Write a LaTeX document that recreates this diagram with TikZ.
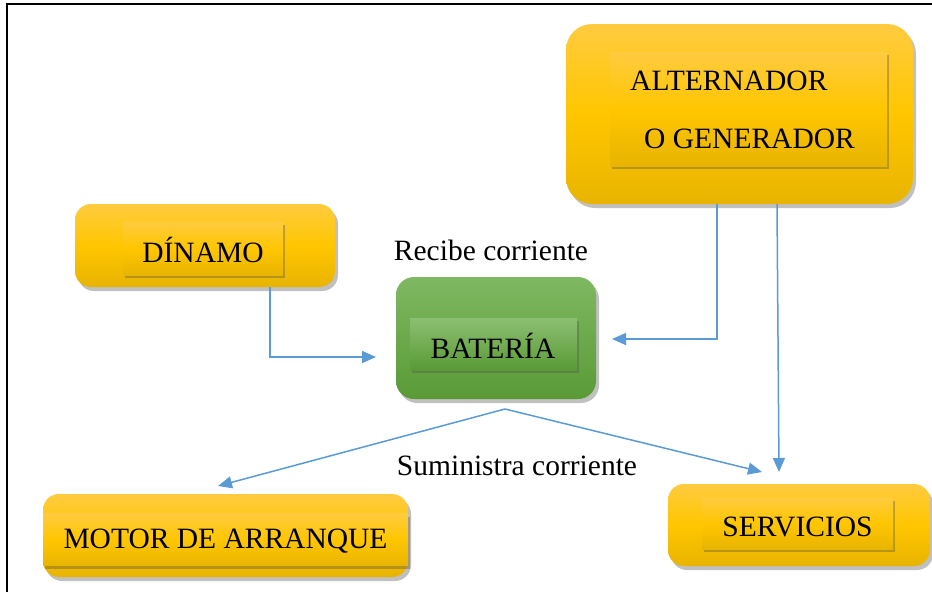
\documentclass[tikz,border=0pt]{standalone}
\usepackage{fontspec}
\setmainfont{Liberation Serif}
\usetikzlibrary{shadows,arrows.meta,calc}
\definecolor{ylT}{HTML}{FFCB3F}
\definecolor{ylM}{HTML}{FFC600}
\definecolor{ylB}{HTML}{E8B400}
\definecolor{grT}{HTML}{7FB862}
\definecolor{grB}{HTML}{5A9A36}
\definecolor{lnk}{HTML}{5B9BD5}
\begin{document}
\begin{tikzpicture}[x=1pt,y=-1pt,
  outerY/.style={rounded corners=16pt, inner sep=0pt, top color=ylT, bottom color=ylB, middle color=ylM,
     drop shadow={shadow xshift=3pt, shadow yshift=-4pt, opacity=0.35, fill=black!70}},
  innerY/.style={inner sep=0pt, top color=ylT, bottom color=ylB, middle color=ylM,
     drop shadow={shadow xshift=2pt, shadow yshift=-3pt, opacity=0.35, fill=black!70}},
  outerG/.style={rounded corners=18pt, inner sep=0pt, top color=grT, bottom color=grB,
     drop shadow={shadow xshift=3pt, shadow yshift=-4pt, opacity=0.35, fill=black!70}},
  innerG/.style={inner sep=0pt, top color=grT!90!white, bottom color=grB,
     drop shadow={shadow xshift=2pt, shadow yshift=-3pt, opacity=0.35, fill=black!70}},
  lbl/.style={font=\fontsize{29.5}{34}\selectfont, inner sep=0pt, text=black},
  link/.style={draw=lnk, line width=1.5pt, -{Triangle[length=14pt,width=12pt]}}
]
\useasboundingbox (0,0) rectangle (932,592);
\fill[white] (0,0) rectangle (932,592);
% frame
\draw[line width=2pt] (7,592) -- (7,4) -- (932,4);

% ALTERNADOR
\node[outerY, rounded corners=26pt, minimum width=347pt, minimum height=180pt] (alt) at (739.5,114) {};
\node[innerY, minimum width=277pt, minimum height=114pt] (altin) at (748.5,109) {};
\node[lbl, anchor=base west] (altA) at (630,90) {ALTERNADOR};
\node[lbl, anchor=base west] (altB) at (644,148) {O GENERADOR};

% DINAMO
\node[outerY, minimum width=260pt, minimum height=83pt] (dyn) at (205,245.5) {};
\node[innerY, minimum width=160pt, minimum height=53pt] (dynin) at (203,248.5) {};
\node[lbl] (dyntx) at (203,250) {DÍNAMO};

% BATERIA
\node[lbl] (rec) at (491,250) {Recibe corriente};
\node[outerG, minimum width=200pt, minimum height=122pt] (bat) at (496,338) {};
\node[innerG, minimum width=167pt, minimum height=52pt] (batin) at (493.5,344) {};
\node[lbl] (battx) at (493,346) {BATERÍA};

% MOTOR
\node[outerY, minimum width=365pt, minimum height=83pt] (mot) at (225.5,535.5) {};
\node[innerY, minimum width=365pt, minimum height=52pt] (motin) at (225.5,539.5) {};
\node[lbl] (mottx) at (225.5,541) {MOTOR DE ARRANQUE};

% SERVICIOS
\node[outerY, minimum width=262pt, minimum height=82pt] (serv) at (799,525) {};
\node[innerY, minimum width=191pt, minimum height=51pt] (servin) at (797.5,523.5) {};
\node[lbl] (servtx) at (797.5,527) {SERVICIOS};

\node[lbl] (sum) at (517,466) {Suministra corriente};

% connector coordinates
\coordinate (dynout) at (270,287);
\coordinate (batinL) at (376,357);
\coordinate (altout1) at (717,204);
\coordinate (batinR) at (612,339);
\coordinate (altout2) at (777,204);
\coordinate (servinT) at (779,472);
\coordinate (split) at (505,409);
\coordinate (motinT) at (218,486);
\coordinate (servinL) at (762,472);

\draw[link] (dynout) |- (batinL);
\draw[link] (altout1) |- (batinR);
\draw[link] (altout2) -- (servinT);
\draw[link] (split) -- (motinT);
\draw[link] (split) -- (servinL);
\end{tikzpicture}
\end{document}
